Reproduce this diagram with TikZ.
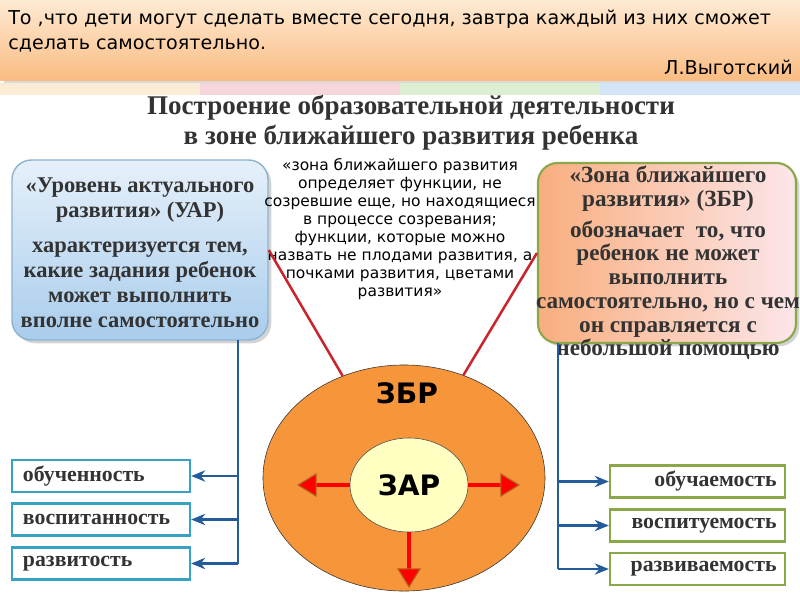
\documentclass[tikz,border=0pt]{standalone}
\usepackage{fontspec}
\setmainfont{Liberation Serif}
\newfontfamily\handfont{DejaVu Sans}
\newfontfamily\zonefont{DejaVu Sans}
\usetikzlibrary{shapes.geometric,arrows.meta,shadows}

\definecolor{quotetop}{HTML}{FEEAD3}
\definecolor{quotebot}{HTML}{FABC82}
\definecolor{bandcream}{HTML}{FCEBD5}
\definecolor{bandpink}{HTML}{F6D6DA}
\definecolor{bandgreen}{HTML}{DCEFD3}
\definecolor{bandblue}{HTML}{D2E4F5}
\definecolor{textgrey}{HTML}{333333}
\definecolor{uartop}{HTML}{E6F0FA}
\definecolor{uarbot}{HTML}{A9CDEC}
\definecolor{uaredge}{HTML}{8DB3CF}
\definecolor{zbrleft}{HTML}{F8AE7E}
\definecolor{zbrright}{HTML}{FCE6EA}
\definecolor{oliveedge}{HTML}{8AA84A}
\definecolor{tealedge}{HTML}{36A3C4}
\definecolor{zbrorange}{HTML}{F7953A}
\definecolor{zaryellow}{HTML}{FFFFC2}
\definecolor{darkred}{HTML}{C8262C}
\definecolor{linkblue}{HTML}{245C9B}
\definecolor{tipedge}{HTML}{B5651D}

\begin{document}
\begin{tikzpicture}[x=0.025cm, y=-0.025cm,
    boxtxt/.style={font=\bfseries\fontsize{16}{17.8}\selectfont, text=textgrey, align=center, inner sep=0pt},
    bigbox/.style={rounded corners=14pt, line width=1pt, minimum width=6.4cm, minimum height=4.5cm, drop shadow={opacity=0.35}},
    leftbox/.style={draw=tealedge, line width=1.6pt, fill=white, minimum width=4.45cm, minimum height=0.8cm,
        text width=3.9cm, align=left, font=\bfseries\fontsize{15.5}{17}\selectfont, text=textgrey, inner sep=0pt},
    rightbox/.style={leftbox, draw=oliveedge, minimum width=4.375cm, text width=3.95cm, align=right},
    bluelink/.style={draw=linkblue, line width=2pt},
    bluearrow/.style={bluelink, -{Stealth[length=10pt, width=8pt]}},
    redlink/.style={draw=darkred, line width=1.8pt},
    redarrow/.style={draw=red, line width=3pt, -{Triangle[width=17pt, length=14pt, color=tipedge, fill=red, line width=0.8pt]}}
  ]
  \useasboundingbox (0,0) rectangle (800,600);

  % Quote on top
  \node[anchor=north west, minimum width=20cm, minimum height=2cm, inner sep=0pt,
        top color=quotetop, bottom color=quotebot, drop shadow={opacity=0.3}] (quote) at (0,0) {};
  \node[anchor=north west, align=left, inner sep=0pt, font=\handfont\fontsize{13.6}{17.8}\selectfont] (quotetxt) at (8,10)
    {То ,что дети могут сделать вместе сегодня, завтра каждый из них сможет\\сделать самостоятельно.};
  \node[anchor=north east, inner sep=0pt, font=\handfont\fontsize{13.6}{17.8}\selectfont] (author) at (793,60) {Л.Выготский};

  % Colour band
  \fill[bandcream] (0,83) rectangle (200,95);
  \fill[bandpink] (200,83) rectangle (400,95);
  \fill[bandgreen] (400,83) rectangle (600,95);
  \fill[bandblue] (600,83) rectangle (800,95);

  % Title
  \node[font=\bfseries\fontsize{19.2}{21.5}\selectfont, text=textgrey, align=center] (title) at (411,123)
    {Построение образовательной деятельности\\в зоне ближайшего развития ребенка};

  % Level boxes
  \node[bigbox, draw=uaredge, top color=uartop, bottom color=uarbot] (uar) at (140,250) {};
  \node[boxtxt] (uartxt) at (140,253)
    {«Уровень актуального\\развития» (УАР)\\[7pt]характеризуется тем,\\какие задания ребенок\\может выполнить\\вполне самостоятельно};
  \node[bigbox, draw=oliveedge, line width=1.5pt, minimum width=6.45cm, left color=zbrleft, right color=zbrright] (zbr) at (667,253) {};
  \node[boxtxt, font=\bfseries\fontsize{16.5}{16.9}\selectfont] (zbrtxt) at (668,263)
    {«Зона ближайшего\\развития» (ЗБР)\\[5pt]обозначает~ то, что\\ребенок не может\\выполнить\\самостоятельно, но с чем\\он справляется с\\небольшой помощью};

  % Vygotsky definition
  \node[align=center, inner sep=0pt, font=\handfont\fontsize{11}{12.8}\selectfont] (zbddef) at (400,229)
    {«зона ближайшего развития\\определяет функции, не\\созревшие еще, но находящиеся\\в процессе созревания;\\функции, которые можно\\назвать не плодами развития, а\\почками развития, цветами\\развития»};

  % Zones
  \node[ellipse, draw=black!80, fill=zbrorange, minimum width=7.05cm, minimum height=5.65cm] (outer) at (404,478) {};
  \node[font=\zonefont\bfseries\fontsize{20}{24}\selectfont] (zbrlabel) at (407,393) {ЗБР};
  \node[ellipse, draw=black!70, fill=zaryellow, minimum width=2.95cm, minimum height=2.35cm,
        font=\zonefont\bfseries\fontsize{20}{24}\selectfont] (inner) at (409,485) {ЗАР};

  % Growth arrows
  \coordinate (westtip) at (297,485);
  \coordinate (easttip) at (520,485);
  \coordinate (southtip) at (409,588);
  \draw[redarrow] (inner.west) -- (westtip);
  \draw[redarrow] (inner.east) -- (easttip);
  \draw[redarrow] (inner.south) -- (southtip);

  % Red links
  \draw[redlink] (uar.east) -- (outer.121);
  \draw[redlink] (zbr.west) -- (outer.60);

  % Left result boxes
  \node[leftbox] (obuch) at (101,476) {обученность};
  \node[leftbox] (vospit) at (101,519.5) {воспитанность};
  \node[leftbox] (razvit) at (101,563.5) {развитость};
  \coordinate (ltop) at (238,340);
  \coordinate (lbot) at (238,563.5);
  \draw[bluelink] (ltop) -- (lbot);
  \foreach \b in {obuch,vospit,razvit}
    \draw[bluearrow] (\b.east -| ltop) -- (\b.east);

  % Right result boxes
  \node[rightbox] (obucha) at (697.5,481.5) {обучаемость};
  \node[rightbox] (vospitu) at (697.5,525.5) {воспитуемость};
  \node[rightbox] (razviva) at (697.5,569) {развиваемость};
  \coordinate (rtop) at (558,343);
  \coordinate (rbot) at (558,569);
  \draw[bluelink] (rtop) -- (rbot);
  \foreach \b in {obucha,vospitu,razviva}
    \draw[bluearrow] (\b.west -| rtop) -- (\b.west);

\end{tikzpicture}
\end{document}
